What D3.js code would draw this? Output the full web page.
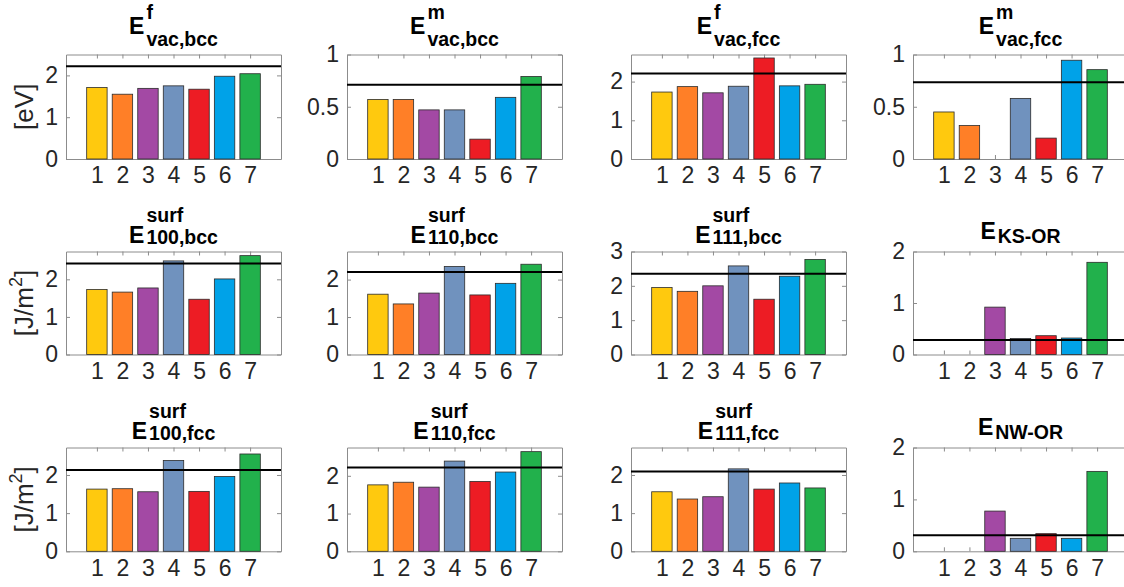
<!DOCTYPE html>
<html>
<head>
<meta charset="utf-8">
<script src="https://cdn.jsdelivr.net/npm/d3@7"></script>
<style>
  html, body { margin: 0; padding: 0; background: #fff; }
  svg { display: block; }
  text { font-family: "Liberation Sans", Arial, sans-serif; }
</style>
</head>
<body>
<svg id="chart" width="1124" height="587"></svg>
<script>
// ---------------- DATA ----------------
const categories = [1, 2, 3, 4, 5, 6, 7];
const barColors = ["#FFC90E", "#FF7F27", "#A349A4", "#7092BE", "#ED1C24", "#00A2E8", "#22B14C"];

const titleSup = ["f", "m", "f", "m", "surf", "surf", "surf", "", "surf", "surf", "surf", ""];
const titleSub = ["vac,bcc", "vac,bcc", "vac,fcc", "vac,fcc", "100,bcc", "110,bcc", "111,bcc", "KS-OR",
                  "100,fcc", "110,fcc", "111,fcc", "NW-OR"];

const vacFormBcc  = [1.71, 1.55, 1.69, 1.75, 1.67, 1.98, 2.04];
const vacMigBcc   = [0.57, 0.57, 0.47, 0.47, 0.19, 0.59, 0.79];
const vacFormFcc  = [1.73, 1.87, 1.71, 1.88, 2.61, 1.89, 1.93];
const vacMigFcc   = [0.45, 0.32, null, 0.58, 0.20, 0.945, 0.855];
const surf100Bcc  = [1.73, 1.66, 1.77, 2.49, 1.47, 2.01, 2.63];
const surf110Bcc  = [1.61, 1.35, 1.64, 2.35, 1.59, 1.90, 2.41];
const surf111Bcc  = [1.95, 1.84, 2.00, 2.58, 1.61, 2.28, 2.77];
const ksOr        = [null, null, 0.92, 0.31, 0.365, 0.32, 1.79];
const surf100Fcc  = [1.63, 1.64, 1.56, 2.38, 1.57, 1.96, 2.55];
const surf110Fcc  = [1.76, 1.83, 1.70, 2.39, 1.85, 2.10, 2.64];
const surf111Fcc  = [1.56, 1.37, 1.43, 2.16, 1.63, 1.79, 1.66];
const nwOr        = [null, null, 0.775, 0.25, 0.34, 0.25, 1.54];

const refValues = [2.22, 0.71, 2.21, 0.735, 2.42, 2.20, 2.35, 0.28, 2.13, 2.22, 2.09, 0.31];
const yMax      = [2.5, 1, 2.7, 1, 2.74, 2.75, 3, 2, 2.72, 2.75, 2.72, 2];
const yTicks    = [[0,1,2],[0,0.5,1],[0,1,2],[0,0.5,1],
                   [0,1,2],[0,1,2],[0,1,2,3],[0,1,2],
                   [0,1,2],[0,1,2],[0,1,2],[0,1,2]];
const yLabels   = ["[eV]", "[J/m2]", "[J/m2]"];

const panelValues = [vacFormBcc, vacMigBcc, vacFormFcc, vacMigFcc,
                     surf100Bcc, surf110Bcc, surf111Bcc, ksOr,
                     surf100Fcc, surf110Fcc, surf111Fcc, nwOr];

// ---------------- LAYOUT ----------------
const colLeft = [66, 347, 631, 913];
const plotW = 215;
const rowTop = [54.5, 251.5, 447.5];
const rowBottom = [159, 354.5, 551.3];
const axisColor = "#8c8c8c";
const textColor = "#262626";

const svg = d3.select("#chart");

panelValues.forEach((vals, i) => {
  const r = Math.floor(i / 4), c = i % 4;
  const left = colLeft[c], right = left + plotW;
  const top = rowTop[r], bottom = rowBottom[r];

  const x = d3.scaleLinear().domain([-0.21, 8.21]).range([left, right]);
  const y = d3.scaleLinear().domain([0, yMax[i]]).range([bottom, top]);
  const g = svg.append("g");

  // axes (beneath data)
  const fmt = d => (d === 0.5 ? "0.5" : d3.format("d")(d));
  const yAx = g.append("g").attr("transform", `translate(${left},0)`)
    .call(d3.axisLeft(y).tickValues(yTicks[i]).tickSizeInner(-4).tickSizeOuter(0).tickPadding(8).tickFormat(fmt));
  const yAxR = g.append("g").attr("transform", `translate(${right},0)`)
    .call(d3.axisRight(y).tickValues(yTicks[i]).tickSizeInner(-4).tickSizeOuter(0).tickFormat(""));
  const xAx = g.append("g").attr("transform", `translate(0,${bottom})`)
    .call(d3.axisBottom(x).tickValues(categories).tickSizeInner(-4).tickSizeOuter(0).tickPadding(8).tickFormat(d3.format("d")));
  const xAxT = g.append("g").attr("transform", `translate(0,${top})`)
    .call(d3.axisTop(x).tickValues(categories).tickSizeInner(-4).tickSizeOuter(0).tickFormat(""));
  [yAx, yAxR, xAx, xAxT].forEach(a => {
    a.select(".domain").attr("stroke", axisColor).attr("stroke-width", 1);
    a.selectAll(".tick line").attr("stroke", axisColor);
    a.selectAll("text").attr("fill", textColor).attr("font-size", 23)
      .attr("font-family", "Liberation Sans, Arial, sans-serif");
  });

  // bars
  const bw = x(0.8) - x(0);
  g.selectAll("rect.bar").data(categories.map((k, j) => ({k, v: vals[j], col: barColors[j]})).filter(d => d.v != null))
    .enter().append("rect")
    .attr("x", d => x(d.k) - bw / 2)
    .attr("y", d => y(d.v))
    .attr("width", bw)
    .attr("height", d => y(0) - y(d.v))
    .attr("fill", d => d.col)
    .attr("stroke", "#2b2b2b")
    .attr("stroke-width", 0.8);

  // reference line
  g.append("line")
    .attr("x1", x.range()[0]).attr("x2", x.range()[1])
    .attr("y1", y(refValues[i])).attr("y2", y(refValues[i]))
    .attr("stroke", "#000").attr("stroke-width", 2);

  // title: E with stacked superscript / subscript
  const tg = g.append("g");
  const hasSup = titleSup[i] !== "";
  let eBase, supBase, subBase;
  if (!hasSup) { eBase = top - 12.5; subBase = top - 9; }
  else if (r === 0) { eBase = top - 21; supBase = top - 36; subBase = top - 9; }
  else { eBase = top - 9; supBase = top - 29.5; subBase = top - 7.5; }
  const eT = tg.append("text").attr("x", 0).attr("y", eBase).attr("font-size", 23).attr("font-weight", "bold")
    .attr("fill", "#000").text("E");
  const ew = eT.node().getComputedTextLength();
  let w2 = 0;
  if (hasSup) {
    const sT = tg.append("text").attr("x", ew + 2).attr("y", supBase).attr("font-size", 19.5).attr("font-weight", "bold")
      .attr("fill", "#000").text(titleSup[i]);
    w2 = sT.node().getComputedTextLength();
  }
  const bT = tg.append("text").attr("x", ew + 2).attr("y", subBase).attr("font-size", 19.5).attr("font-weight", "bold")
    .attr("fill", "#000").text(titleSub[i]);
  w2 = Math.max(w2, bT.node().getComputedTextLength());
  const total = ew + 2 + w2;
  tg.attr("transform", `translate(${(left + right) / 2 - total / 2},0)`);

  // y label for first column
  if (c === 0) {
    const lbl = yLabels[r];
    const cy = (top + bottom) / 2;
    const t = g.append("text")
      .attr("transform", `translate(33,${cy}) rotate(-90)`)
      .attr("text-anchor", "middle")
      .attr("font-size", 26).attr("fill", textColor);
    if (lbl.indexOf("m2") >= 0) {
      t.append("tspan").text("[J/m");
      t.append("tspan").attr("font-size", 18).attr("dy", -11).text("2");
      t.append("tspan").attr("dy", 11).text("]");
    } else {
      t.text(lbl);
    }
  }
});
</script>
</body>
</html>
